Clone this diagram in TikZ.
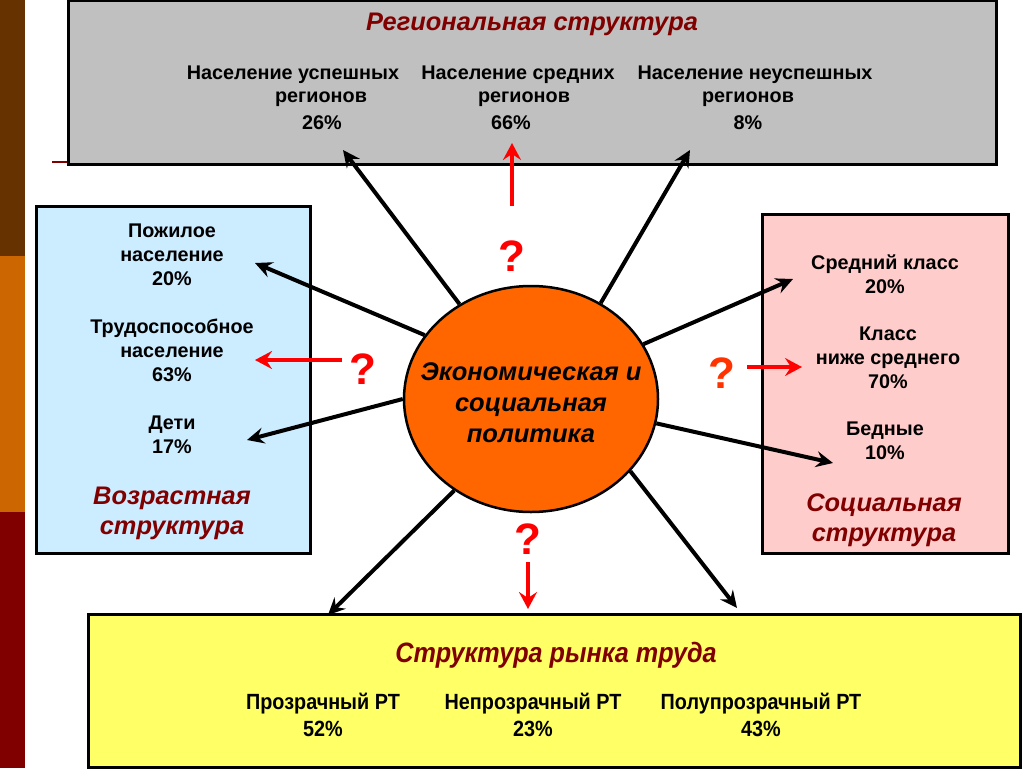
\documentclass[tikz,border=0pt]{standalone}
\usepackage{fontspec}
\setmainfont{Liberation Sans}
\newfontfamily\narrowfont[FakeStretch=0.9]{Liberation Sans}
\usetikzlibrary{arrows.meta,shapes.geometric}
\definecolor{stripBrown}{HTML}{663300}
\definecolor{stripOrange}{HTML}{CC6600}
\definecolor{stripRed}{HTML}{800000}
\definecolor{titleRed}{HTML}{800000}
\definecolor{boxGrey}{HTML}{C0C0C0}
\definecolor{boxBlue}{HTML}{CCECFF}
\definecolor{boxPink}{HTML}{FFCCCC}
\definecolor{boxYellow}{HTML}{FFFF66}
\definecolor{circOrange}{HTML}{FF6600}
\definecolor{qRed}{HTML}{FF0000}
\definecolor{qOrange}{HTML}{FF3300}
\tikzset{
  panel/.style={draw=black, line width=3pt, inner sep=0pt},
  body/.style={font=\fontsize{19.8}{24}\selectfont\bfseries, align=center, inner sep=0pt, text=black},
  ttl/.style={font=\fontsize{25.4}{30}\selectfont\bfseries\itshape, text=titleRed, inner sep=0pt, align=center},
  nbody/.style={font=\narrowfont\fontsize{22}{25}\selectfont\bfseries, inner sep=0pt, text=black},
  nttl/.style={font=\narrowfont\fontsize{28}{30}\selectfont\bfseries\itshape, text=titleRed, inner sep=0pt},
  qmark/.style={font=\fontsize{44}{44}\selectfont\bfseries, text=qRed, inner sep=0pt},
  blk/.style={line width=4pt, draw=black, -{Stealth[length=17pt,width=16pt,inset=6pt]}},
  redarr/.style={line width=4pt, draw=qRed, -{Stealth[length=17pt,width=18pt,inset=6pt]}},
}
\begin{document}
\begin{tikzpicture}[x=1pt,y=-1pt]
\useasboundingbox (0,0) rectangle (1024,768);
\fill[white] (0,0) rectangle (1024,768);
% side strip
\fill[stripBrown] (0,0) rectangle (25,256);
\fill[stripOrange] (0,256) rectangle (25,512);
\fill[stripRed] (0,512) rectangle (25,768);
\draw[stripRed, line width=1.5pt] (52,162) -- (68,162);

% panels
\node[panel, fill=boxGrey, minimum width=928pt, minimum height=163pt] (reg) at (532,82.5) {};
\node[panel, fill=boxBlue, minimum width=274pt, minimum height=347pt] (age) at (173,379.5) {};
\node[panel, fill=boxPink, minimum width=246pt, minimum height=339pt] (soc) at (885,383.5) {};
\node[panel, fill=boxYellow, minimum width=932pt, minimum height=153pt] (lab) at (554,690.5) {};

% centre
\node[ellipse, draw=black, line width=2.5pt, fill=circOrange, minimum width=254pt, minimum height=226pt, inner sep=0pt] (pol) at (531,399) {};
\node[font=\fontsize{25.5}{31}\selectfont\bfseries\itshape, align=center, inner sep=0pt] (polt) at (531,403) {Экономическая и\\социальная\\политика};

% regional texts
\node[ttl] (regT) at (532,24) {Региональная структура};
\node[body] (r1a) at (293,75) {Население успешных};
\node[body] (r1b) at (321,99) {регионов};
\node[body] (r1c) at (322,123) {26\%};
\node[body] (r2a) at (518,75) {Население средних};
\node[body] (r2b) at (524,99) {регионов};
\node[body] (r2c) at (511,123) {66\%};
\node[body] (r3a) at (755,75) {Население неуспешных};
\node[body] (r3b) at (748,99) {регионов};
\node[body] (r3c) at (748,123) {8\%};

% age texts
\node[body] (a1) at (172,255) {Пожилое\\население\\20\%};
\node[body] (a2) at (172,350) {Трудоспособное\\население\\63\%};
\node[body] (a3) at (172,434.5) {Дети\\17\%};
\node[ttl] (ageT) at (172,513) {Возрастная\\структура};

% social texts
\node[body] (s1) at (885,274.5) {Средний класс\\20\%};
\node[body] (s2) at (888,357.5) {Класс\\ниже среднего\\70\%};
\node[body] (s3) at (885,441) {Бедные\\10\%};
\node[ttl] (socT) at (884,520) {Социальная\\структура};

% labour texts
\node[nttl] (labT) at (556,655) {Структура рынка труда};
\node[nbody] (l1a) at (323,704) {Прозрачный РТ};
\node[nbody] (l1b) at (323,729) {52\%};
\node[nbody] (l2a) at (533,704) {Непрозрачный РТ};
\node[nbody] (l2b) at (533,729) {23\%};
\node[nbody] (l3a) at (761,704) {Полупрозрачный РТ};
\node[nbody] (l3b) at (761,729) {43\%};

% question marks
\node[qmark] (qTop) at (512,256) {?};
\node[qmark] (qLeft) at (363,369) {?};
\node[qmark, text=qOrange] (qRight) at (722,373) {?};
\node[qmark] (qBot) at (528,539) {?};

% arrow end points
\coordinate (eTL) at (343,150);
\coordinate (eTR) at (690,150);
\coordinate (eL1) at (255,263);
\coordinate (eL3) at (247,440);
\coordinate (eR1) at (793,279);
\coordinate (eR3) at (833,463);
\coordinate (eBL) at (328,615);
\coordinate (eBR) at (737,608);
\coordinate (sUp) at (512,206);
\coordinate (eUp) at (512,143);
\coordinate (sLeft) at (342,360);
\coordinate (eLeft) at (255,360);
\coordinate (sRight) at (747,367);
\coordinate (eRight) at (802,367);
\coordinate (sDown) at (528,562);
\coordinate (eDown) at (528,609);

% black arrows
\draw[blk] (pol.127.8) -- (eTL);
\draw[blk] (pol.54.3) -- (eTR);
\draw[blk] (pol.149.4) -- (eL1);
\draw[blk] (pol.180.5) -- (eL3);
\draw[blk] (pol.26.8) -- (eR1);
\draw[blk] (pol.-11.6) -- (eR3);
\draw[blk] (pol.-130.2) -- (eBL);
\draw[blk] (pol.-36) -- (eBR);

% red arrows
\draw[redarr] (sUp) -- (eUp);
\draw[redarr] (sLeft) -- (eLeft);
\draw[redarr] (sRight) -- (eRight);
\draw[redarr] (sDown) -- (eDown);
\end{tikzpicture}
\end{document}
